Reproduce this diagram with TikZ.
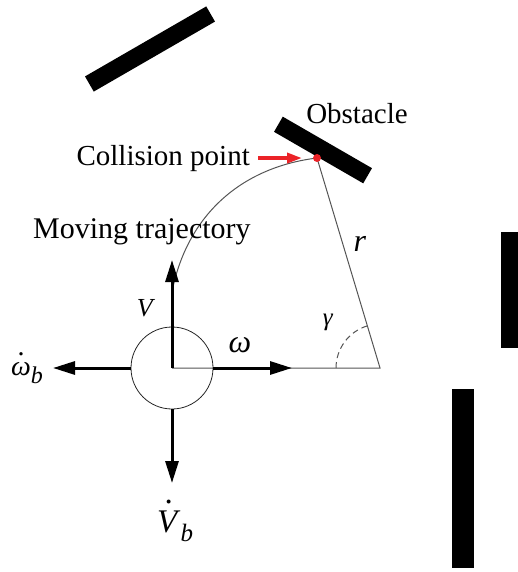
\documentclass[tikz,border=0pt]{standalone}
\usepackage{fontspec}
\setmainfont{Liberation Serif}
\usepackage{xcolor}
\usepackage{tikz}
\usetikzlibrary{arrows.meta,positioning}
\definecolor{obsblack}{RGB}{0,0,0}
\definecolor{pathgray}{RGB}{85,85,85}
\definecolor{hitred}{RGB}{235,35,40}
\newcommand{\dotlabel}[2]{\ooalign{\textit{#1}\cr\hidewidth\raisebox{#2}{.}\hidewidth\cr}}
\newcommand{\subb}[1]{\raisebox{-0.3em}{\fontsize{#1}{#1}\selectfont\textit{b}}}

\begin{document}
\begin{tikzpicture}[
  x=1pt, y=-1pt,
  font=\fontsize{29}{32}\selectfont,
  obs/.style={fill=obsblack, draw=none, inner sep=0, minimum height=17.5pt},
  traj/.style={line width=1pt, pathgray},
  bigarrow/.style={line width=3pt, -{Triangle[length=22pt, width=13pt]}},
  lbl/.style={inner sep=0}
]
\useasboundingbox (0,0) rectangle (518,572);

% obstacles
\node[obs, minimum width=140pt, rotate=30] (obsA) at (150,49) {};
\node[obs, minimum width=103pt, rotate=-30] (obstacle) at (323,150) {};
\node[obs, minimum width=17pt, minimum height=116pt, anchor=north west] (obsB) at (501,232) {};
\node[obs, minimum width=22pt, minimum height=179pt, anchor=north west] (obsC) at (452,389) {};

% robot and geometry
\coordinate (vertex) at (380,368);
\coordinate (hitpt) at (317,158);
\coordinate (tstart) at (172,292);
\coordinate (gstart) at (336,368);
\draw[traj] (172,368) -- (vertex) -- (hitpt);
\draw[traj] (tstart) to[out=79, in=187] (hitpt);
\draw[traj, dash pattern=on 6pt off 4pt] (gstart) arc[start angle=180, end angle=253.4, radius=44];
\node[circle, draw=black!85, line width=0.8pt, minimum size=82pt, inner sep=0] (robot) at (172,368) {};

\coordinate (vtip) at (172,260);
\coordinate (wtip) at (292,368);
\coordinate (wbtip) at (53,368);
\coordinate (vbtip) at (172,483);
\draw[bigarrow] (robot.center) -- (vtip);
\draw[bigarrow] (robot.east) -- (wtip);
\draw[bigarrow] (robot.west) -- (wbtip);
\draw[bigarrow] (robot.south) -- (vbtip);

% labels
\node[lbl, font=\fontsize{26}{26}\selectfont] (vlabel) at (146,308) {\textit{V}};
\node[lbl, font=\fontsize{32}{32}\selectfont] (wlabel) at (240,345) {\textit{ω}};
\node[lbl, font=\fontsize{25}{25}\selectfont] (glabel) at (328,322) {\textit{γ}};
\node[lbl, font=\fontsize{32}{32}\selectfont] (rlabel) at (360,244) {\textit{r}};
\node[lbl, font=\fontsize{28}{28}\selectfont, anchor=base west] (wblabel) at (11,375) {\dotlabel{ω}{0.68em}\subb{24}};
\node[lbl, font=\fontsize{33}{33}\selectfont, anchor=base west] (vblabel) at (157,532) {\dotlabel{V}{0.85em}\subb{25}};

\node[lbl, anchor=base] (obslabel) at (357,124) {Obstacle};
\node[lbl, anchor=base east] (collision) at (250,165) {Collision point};
\node[lbl, anchor=base west, font=\fontsize{30}{32}\selectfont] (trajlabel) at (33,238) {Moving trajectory};

\draw[hitred, line width=3.5pt, -{Triangle[length=15pt, width=10pt]}] ([xshift=8pt]collision.east) -- ++(44,0);
\node[circle, fill=hitred, minimum size=8pt, inner sep=0] (hit) at (hitpt) {};
\end{tikzpicture}
\end{document}
